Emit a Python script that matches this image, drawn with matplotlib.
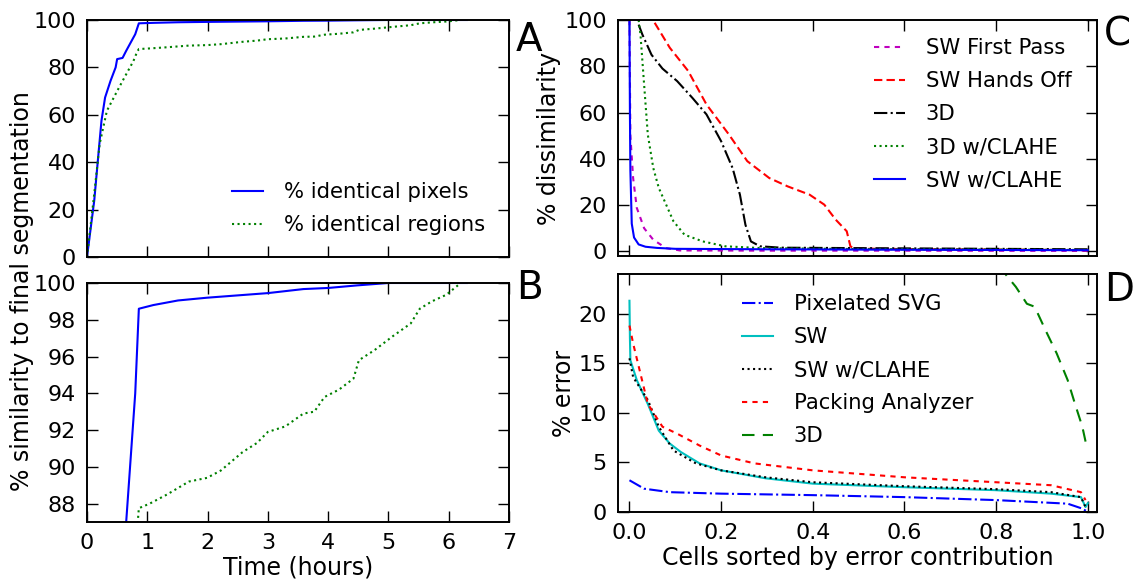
import matplotlib
matplotlib.use('Agg')
import matplotlib.pyplot as plt

# ---- data ----
# A / B: similarity to final segmentation vs time
t_pix = [0, 0.12, 0.18, 0.24, 0.30, 0.39, 0.475, 0.5, 0.59, 0.65, 0.71, 0.80,
         0.86, 1.10, 1.51, 1.99, 3.0, 3.59, 4.0, 4.48, 5.0, 6.3]
pct_pixels = [0, 23.8, 40.7, 57.5, 67.3, 74.3, 80, 83.5, 84, 87, 89.8, 94,
              98.6, 98.8, 99.05, 99.2, 99.45, 99.67, 99.73, 99.87, 100, 100]
t_reg = [0, 0.12, 0.21, 0.33, 0.5, 0.62, 0.77, 0.83, 0.86, 1.04, 1.33, 1.69, 1.99,
         2.22, 2.58, 2.82, 3.0, 3.29, 3.59, 3.77, 3.94, 4.18, 4.42, 4.51, 4.77,
         5.07, 5.37, 5.52, 5.72, 5.96, 6.2]
pct_regions = [0, 26.6, 47.7, 61.7, 70, 75.7, 82.7, 86.5, 87.75, 88.0, 88.5, 89.2,
               89.4, 89.8, 90.8, 91.3, 91.9, 92.2, 92.9, 93.0, 93.8, 94.2, 94.8,
               95.8, 96.35, 97.1, 97.8, 98.6, 99.0, 99.36, 100]

# C: % dissimilarity, cells sorted
x_first = [0, 0.001, 0.002, 0.008, 0.016, 0.032, 0.052, 0.08, 0.11, 0.3, 0.6, 1.0]
y_first = [100, 75, 50, 31.7, 18.8, 10, 5, 1.4, 0.4, 0.3, 0.3, 0.2]
x_hands = [0.055, 0.088, 0.128, 0.168, 0.217, 0.257, 0.305, 0.345, 0.393, 0.425,
           0.45, 0.474, 0.482, 0.49, 0.6, 0.8, 1.0]
y_hands = [98.8, 88, 78, 63.5, 50.5, 39, 31.7, 28.1, 24.5, 20.2, 13.7, 8.7, 2.2,
           1.2, 1.0, 0.8, 0.5]
x_3d = [0.02, 0.028, 0.048, 0.072, 0.104, 0.137, 0.168, 0.2, 0.225, 0.241, 0.253,
        0.265, 0.285, 0.33, 0.5, 0.8, 1.0]
y_3d = [98, 93.8, 85, 79, 73.6, 66.4, 59.2, 47.6, 36, 24.5, 11.5, 4.3, 2.2, 1.6,
        1.4, 1.1, 0.9]
x_3dcl = [0.02, 0.024, 0.032, 0.04, 0.052, 0.064, 0.08, 0.096, 0.12, 0.16, 0.209,
          0.289, 0.5, 0.8, 1.0]
y_3dcl = [100, 93.8, 72, 50.5, 36, 27.4, 20.2, 13, 7.2, 4.3, 2.2, 1.4, 1.0, 0.8, 0.6]
x_swcl = [0, 0.001, 0.002, 0.005, 0.01, 0.02, 0.035, 0.06, 0.1, 0.3, 0.6, 1.0]
y_swcl = [100, 60, 35, 12, 6, 3, 2, 1.5, 1.1, 0.9, 0.7, 0.5]

# D: % error, cells sorted
x_svg = [0, 0.032, 0.088, 0.2, 0.4, 0.6, 0.8, 0.956, 0.988, 1.0]
y_svg = [3.2, 2.35, 2.0, 1.85, 1.7, 1.5, 1.2, 0.84, 0.34, 0.0]
x_sw = [0, 0.001, 0.002, 0.016, 0.04, 0.064, 0.088, 0.112, 0.153, 0.2, 0.297,
        0.4, 0.6, 0.8, 0.92, 0.985, 0.995, 1.0]
y_sw = [21.3, 17.6, 15.3, 13.3, 10.9, 8.2, 6.9, 6.05, 4.9, 4.2, 3.4, 2.86, 2.5,
        2.2, 1.85, 1.5, 0.5, 0.9]
x_swclD = [0, 0.008, 0.04, 0.064, 0.096, 0.145, 0.2, 0.297, 0.4, 0.6, 0.8, 0.92,
           0.985, 0.995]
y_swclD = [15.5, 13.6, 11.3, 8.6, 6.2, 4.9, 4.2, 3.5, 3.0, 2.6, 2.3, 2.0, 1.5, 0.5]
x_pack = [0, 0.008, 0.04, 0.072, 0.104, 0.153, 0.2, 0.273, 0.4, 0.6, 0.8, 0.92,
          0.985, 0.995]
y_pack = [18.8, 17, 10.9, 8.6, 7.9, 6.7, 5.7, 4.9, 4.2, 3.5, 3.0, 2.7, 2.0, 1.2]
x_3dD = [0.80, 0.82, 0.843, 0.867, 0.884, 0.908, 0.932, 0.956, 0.972, 0.988, 0.996]
y_3dD = [27, 24, 22.7, 21, 20.7, 18.3, 16, 13.3, 10.9, 8.6, 6.9]

time_ticks = [0, 1, 2, 3, 4, 5, 6, 7]
frac_ticks = [0, 0.2, 0.4, 0.6, 0.8, 1.0]
frac_labels = ['0.0', '0.2', '0.4', '0.6', '0.8', '1.0']

plt.rcParams['font.family'] = ['DejaVu Sans']
plt.rcParams['font.size'] = 17
plt.rcParams['axes.linewidth'] = 1.4
plt.rcParams['lines.linewidth'] = 1.5

fig = plt.figure(figsize=(11.36, 5.83), dpi=100)
fig.patch.set_facecolor('white')

W, H = 1136.0, 583.0
LEG = 15.2


def box(left, top, right, bottom):
    return [left / W, 1 - bottom / H, (right - left) / W, (bottom - top) / H]


def style(ax):
    ax.tick_params(direction='in', top=True, right=True, length=8, width=1,
                   labelsize=16, pad=8)


def legend_at(ax, x, y, ls):
    ax.legend(loc='upper left', bbox_to_anchor=(x / W, 1 - y / H),
              bbox_transform=fig.transFigure, frameon=False, fontsize=LEG,
              borderpad=0, borderaxespad=0, handlelength=1.45,
              handletextpad=1.0, labelspacing=ls)


axA = fig.add_axes(box(87, 20, 509, 257))
axB = fig.add_axes(box(87, 283, 509, 522))
axC = fig.add_axes(box(618, 20, 1097, 256))
axD = fig.add_axes(box(618, 274, 1097, 512))
for ax in (axA, axB, axC, axD):
    style(ax)

# A
axA.plot(t_pix, pct_pixels, 'b-', label='% identical pixels')
axA.plot(t_reg, pct_regions, 'g:', label='% identical regions')
axA.set_xlim(0, 7)
axA.set_ylim(0, 100)
axA.set_xticks(time_ticks)
axA.set_xticklabels([])
legend_at(axA, 232, 182, 0.62)

# B
axB.plot(t_pix, pct_pixels, 'b-')
axB.plot(t_reg, pct_regions, 'g:')
axB.set_xlim(0, 7)
axB.set_ylim(87, 100)
axB.set_xticks(time_ticks)
axB.set_yticks([88, 90, 92, 94, 96, 98, 100])
axB.set_xlabel('Time (hours)', labelpad=2)
fig.text(0.019, 0.5, '% similarity to final segmentation', rotation=90,
         ha='center', va='center', fontsize=17)

# C
axC.plot(x_first, y_first, color='m', dashes=(2.5, 2.5), label='SW First Pass')
axC.plot(x_hands, y_hands, color='r', dashes=(4, 2), label='SW Hands Off')
axC.plot(x_3d, y_3d, 'k-.', label='3D')
axC.plot(x_3dcl, y_3dcl, 'g:', label='3D w/CLAHE')
axC.plot(x_swcl, y_swcl, 'b-', label='SW w/CLAHE')
axC.set_xlim(-0.025, 1.02)
axC.set_ylim(-2, 100)
axC.set_xticks(frac_ticks)
axC.set_xticklabels([])
axC.set_yticks([0, 20, 40, 60, 80, 100])
axC.set_ylabel('% dissimilarity', labelpad=2)
legend_at(axC, 874, 38, 0.62)

# D
axD.plot(x_svg, y_svg, 'b-.', label='Pixelated SVG')
axD.plot(x_sw, y_sw, 'c-', label='SW')
axD.plot(x_swclD, y_swclD, 'k:', label='SW w/CLAHE')
axD.plot(x_pack, y_pack, color='r', dashes=(2.5, 2.5), label='Packing Analyzer')
axD.plot(x_3dD, y_3dD, color='g', dashes=(6, 4), label='3D')
axD.set_xlim(-0.025, 1.02)
axD.set_ylim(0, 24)
axD.set_xticks(frac_ticks)
axD.set_xticklabels(frac_labels)
axD.set_yticks([0, 5, 10, 15, 20])
axD.set_xlabel('Cells sorted by error contribution', labelpad=2)
axD.set_ylabel('% error', labelpad=2)
legend_at(axD, 742, 294, 0.62)

# panel letters
for letter, x, y in (('A', 516, 40), ('B', 516, 288), ('C', 1104, 34), ('D', 1104, 290)):
    fig.text(x / W, 1 - y / H, letter, fontsize=28, ha='left', va='center')

fig.savefig('out.png', dpi=100, facecolor='white')
